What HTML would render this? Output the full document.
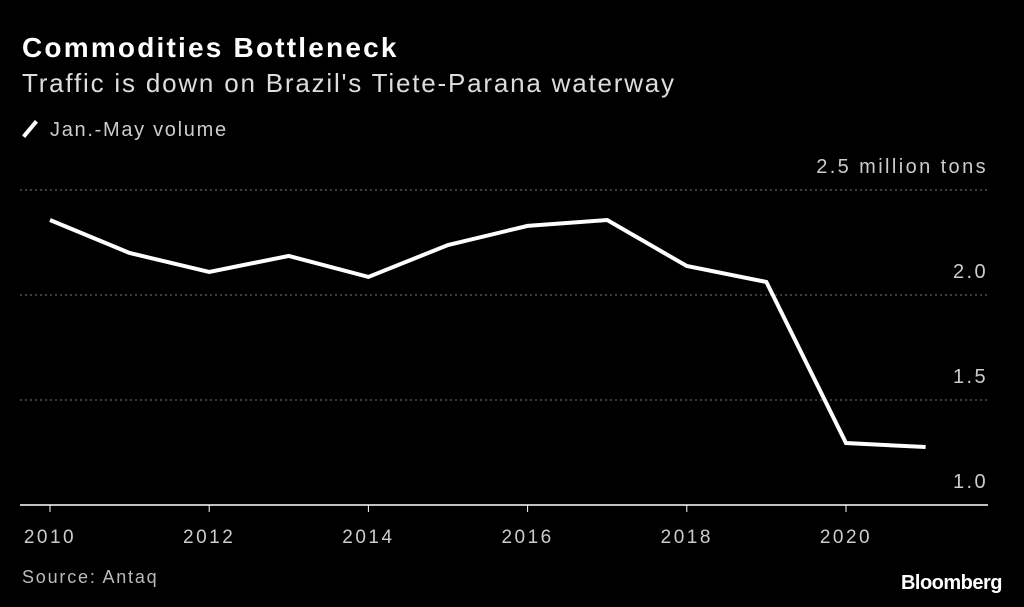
<!DOCTYPE html>
<html><head><meta charset="utf-8"><style>
body{margin:0;background:#000;width:1024px;height:607px;overflow:hidden;font-family:"Liberation Sans",sans-serif;color:#fff}
.t{position:absolute;white-space:nowrap}
</style></head><body>
<div class="t" style="left:22px;top:32px;font-size:28px;font-weight:bold;letter-spacing:2.2px">Commodities Bottleneck</div>
<div class="t" style="left:22px;top:68px;font-size:26px;color:#ddd;letter-spacing:1.8px">Traffic is down on Brazil's Tiete-Parana waterway</div>
<div class="t" style="left:22px;top:119px;font-size:20px;color:#ccc;letter-spacing:1.7px"><span style="display:inline-block;width:4px;height:20px;background:#fff;transform:rotate(40deg);vertical-align:-3px;margin:0 18px 0 6px"></span>Jan.-May volume</div>
<div class="t" style="left:22px;top:567px;font-size:18px;color:#bbb;letter-spacing:1.8px">Source: Antaq</div>
<div class="t" style="right:22px;top:572px;font-size:20px;font-weight:bold;letter-spacing:-0.5px">Bloomberg</div>
<svg id="c" width="1024" height="607" style="position:absolute;left:0;top:0"></svg>
<script>
const years=[2010,2011,2012,2013,2014,2015,2016,2017,2018,2019,2020,2021];
const volume=[2.357,2.2,2.11,2.186,2.086,2.238,2.329,2.357,2.138,2.062,1.295,1.276];
const yTicks=[1.0,1.5,2.0,2.5];
const yTickLabels=["1.0","1.5","2.0","2.5 million tons"];
const xTicks=[2010,2012,2014,2016,2018,2020];
const ns="http://www.w3.org/2000/svg",svg=document.getElementById('c');
const x=v=>50+(v-2010)*79.6, y=v=>505-(v-1.0)*210;
function mk(t,a){const e=document.createElementNS(ns,t);for(const k in a)e.setAttribute(k,a[k]);svg.appendChild(e);return e;}
yTicks.forEach((v,i)=>{
 if(v>1.0){const g=mk('line',{x1:20,x2:988,y1:y(v),y2:y(v),stroke:'#777','stroke-dasharray':'2,3','stroke-width':1});
 
 }
 const t=mk('text',{x:988,y:y(v)-17,'text-anchor':'end',fill:'#ccc','font-size':20,'letter-spacing':2.4,'font-family':'Liberation Sans'});
 t.textContent=yTickLabels[i];
 
 
});
const ax=mk('line',{x1:20,x2:988,y1:505,y2:505,stroke:'#fff','stroke-width':1.5});


xTicks.forEach(v=>{
 const k=mk('line',{x1:x(v),x2:x(v),y1:505,y2:512,stroke:'#fff','stroke-width':1});
 
 
 const t=mk('text',{x:x(v),y:543,'text-anchor':'middle',fill:'#ccc','font-size':19,'letter-spacing':2.5,'font-family':'Liberation Sans'});
 t.textContent=v;
 
 
});
const p=mk('polyline',{points:years.map((yr,i)=>x(yr)+','+y(volume[i])).join(' '),fill:'none',stroke:'#fff','stroke-width':4,'stroke-linejoin':'miter'});


</script>
</body></html>
